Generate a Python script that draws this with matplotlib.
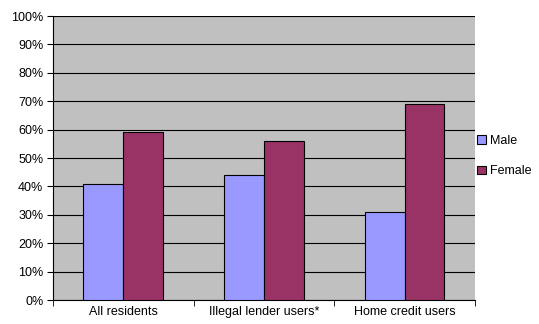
import numpy as np
import matplotlib.pyplot as plt
from matplotlib.ticker import FixedLocator, PercentFormatter

categories = ['All residents', 'Illegal lender users*', 'Home credit users']
male = [41, 44, 31]
female = [59, 56, 69]

plt.rcParams['font.family'] = ['Liberation Sans', 'DejaVu Sans']

fig = plt.figure(figsize=(5.39, 3.24), dpi=100)
ax = fig.add_axes([0.0983, 0.074, 0.7826, 0.8766])

x = np.arange(len(categories))
w = 0.284
ax.bar(x - w / 2, male, w, color='#9999FF', edgecolor='black', linewidth=0.8, label='Male', zorder=3)
ax.bar(x + w / 2, female, w, color='#993366', edgecolor='black', linewidth=0.8, label='Female', zorder=3)

ax.set_facecolor('#C0C0C0')
ax.set_xlim(-0.5, len(categories) - 0.5)
ax.set_ylim(0, 100)
ax.set_yticks(np.arange(0, 101, 10))
ax.yaxis.set_major_formatter(PercentFormatter(decimals=0))
ax.grid(axis='y', color='black', linewidth=0.8, zorder=1)

ax.set_xticks(x)
ax.set_xticklabels(categories)
ax.tick_params(axis='x', length=0, labelsize=9, pad=4)
ax.xaxis.set_minor_locator(FixedLocator(np.arange(-0.5, len(categories), 1)))
ax.tick_params(axis='x', which='minor', length=4, direction='out')
ax.tick_params(axis='y', labelsize=9, length=4, direction='out', pad=3)

for s in ['top', 'right']:
    ax.spines[s].set_visible(False)
ax.spines['left'].set_linewidth(0.8)
ax.spines['bottom'].set_linewidth(0.8)

ax.legend(loc='center left', bbox_to_anchor=(1.0, 0.507), frameon=False, fontsize=9,
          handlelength=0.7, handleheight=0.7, handletextpad=0.3, labelspacing=1.5,
          borderaxespad=0.0, borderpad=0.2)

fig.savefig('out.png', dpi=100)
